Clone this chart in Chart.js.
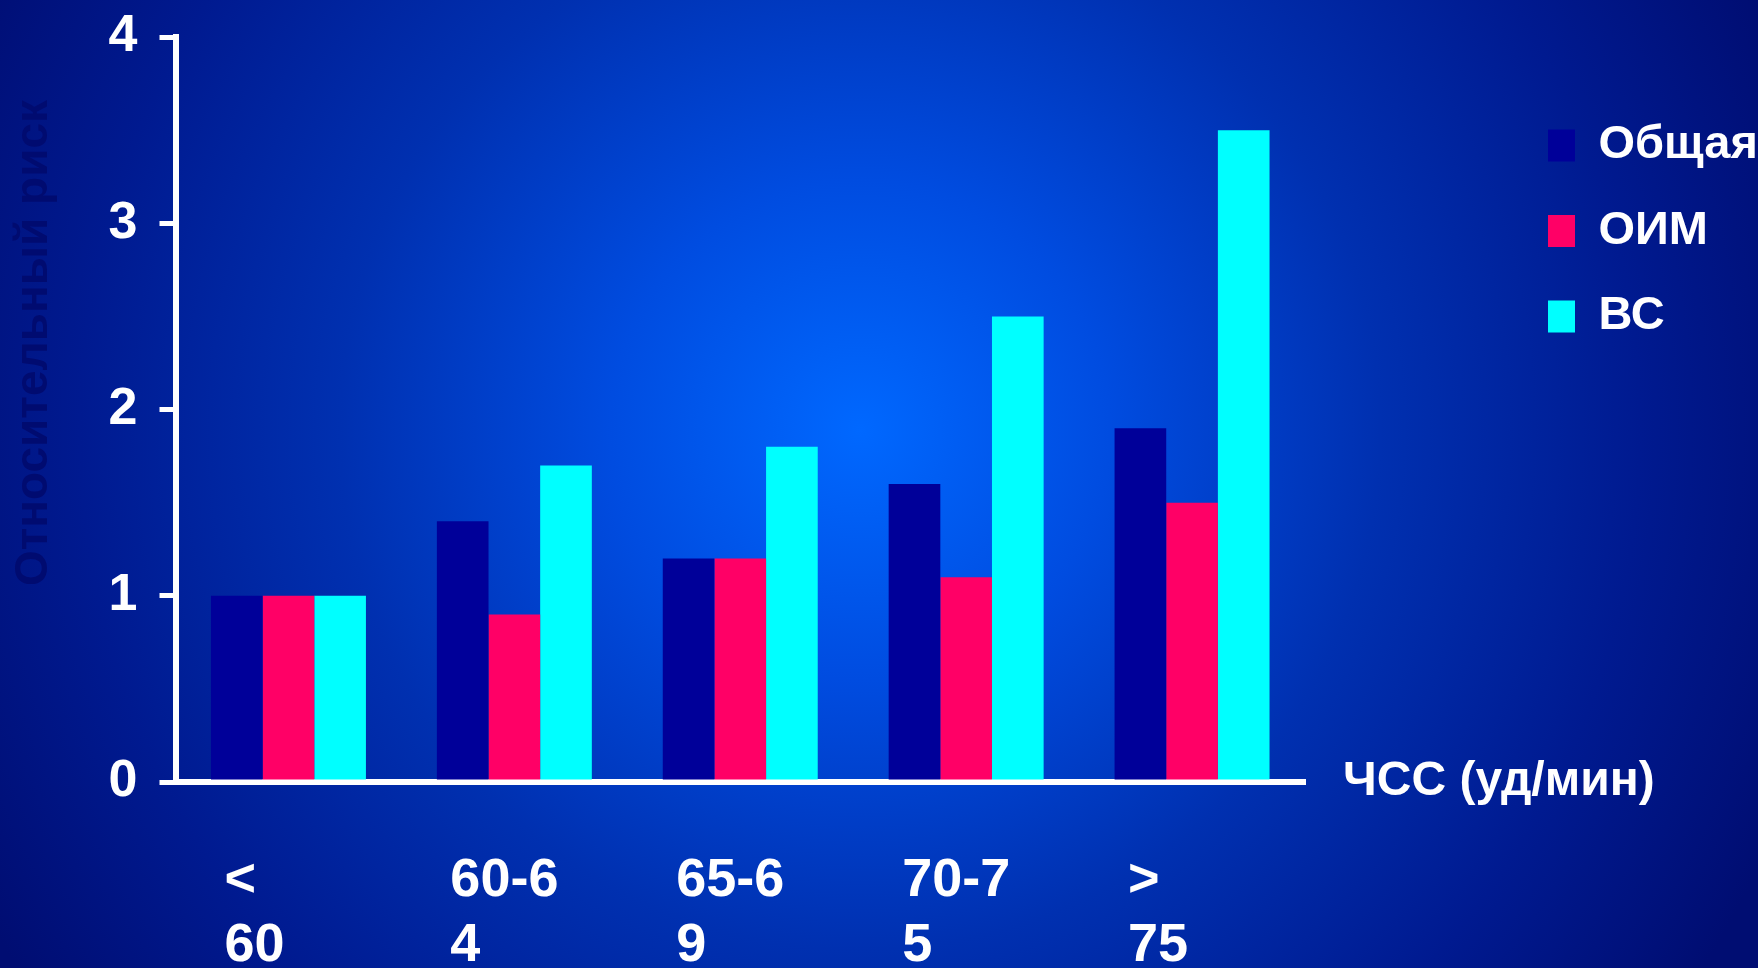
<!DOCTYPE html>
<html>
<head>
<meta charset="utf-8">
<script src="https://cdn.jsdelivr.net/npm/chart.js@4"></script>
<style>
  html, body { margin: 0; padding: 0; }
  body {
    width: 1758px;
    height: 968px;
    overflow: hidden;
    background: radial-gradient(circle 1000px at 860px 430px,
      #0068ff 0%, #004ce0 25%, #0030b0 52%, #001a90 78%, #000d72 100%);
  }
  #wrap { position: relative; width: 1758px; height: 968px; }
</style>
</head>
<body>
<div id="wrap"><canvas id="hrChart"></canvas></div>
<script>
// ЧСС groups and relative risk per outcome
const categories = [['<', '60'], ['60-6', '4'], ['65-6', '9'], ['70-7', '5'], ['>', '75']];
const seriesNames = ['Общая', 'ОИМ', 'ВС'];
const obshaya = [1, 1.4, 1.2, 1.6, 1.9];
const oim = [1, 0.9, 1.2, 1.1, 1.5];
const vs = [1, 1.7, 1.8, 2.5, 3.5];
const yMin = 0;
const yMax = 4;
const yStep = 1;
const xTitle = 'ЧСС (уд/мин)';
const yTitle = 'Относительный риск';

const colors = ['#000099', '#ff0066', '#00ffff'];
const FONT = '"Liberation Sans", Arial, Helvetica, sans-serif';

// layout of the slide
const PLOT_LEFT = 175.5;
const PLOT_TOP = 37;
const PLOT_BOTTOM = 782;
const PLOT_RIGHT = 1305;
const LEGEND_X = 1548;
const LEGEND_Y = 122;

Chart.defaults.font.family = FONT;

const slideText = {
    id: 'slideText',
    beforeInit(chart) {
        // legend reserves the whole strip right of the plot
        const fit = chart.legend.fit;
        chart.legend.fit = function () {
            fit.call(this);
            this.width = chart.width - PLOT_RIGHT;
        };
    },
    afterLayout(chart) {
        const lg = chart.legend;
        const pad = lg.options.labels.padding;
        const dx = LEGEND_X - pad - lg.left;
        const dy = LEGEND_Y - pad - lg.top;
        lg.left += dx; lg.right += dx;
        lg.top += dy; lg.bottom += dy;
    },
    afterDraw(chart) {
        const { ctx, scales: { x, y } } = chart;
        ctx.save();
        ctx.fillStyle = '#ffffff';
        ctx.font = 'bold 48px ' + FONT;
        ctx.textAlign = 'left';
        ctx.textBaseline = 'middle';
        ctx.fillText(xTitle, x.right + 38, y.getPixelForValue(0));

        ctx.translate(34, 343);
        ctx.rotate(-Math.PI / 2);
        ctx.fillStyle = '#000b70';
        ctx.font = 'bold 46px ' + FONT;
        ctx.textAlign = 'center';
        ctx.fillText(yTitle, 0, 0);
        ctx.restore();
    }
};

const ctx = document.getElementById('hrChart').getContext('2d');
new Chart(ctx, {
    type: 'bar',
    data: {
        labels: categories,
        datasets: [obshaya, oim, vs].map((values, i) => ({
            label: seriesNames[i],
            data: values,
            backgroundColor: colors[i],
            borderWidth: 0,
            categoryPercentage: 0.686,
            barPercentage: 1.0
        }))
    },
    options: {
        responsive: true,
        maintainAspectRatio: false,
        animation: false,
        events: [],
        layout: { padding: { top: PLOT_TOP, left: 0, right: 0, bottom: 0 } },
        scales: {
            x: {
                grid: { display: true, drawOnChartArea: false, drawTicks: false },
                border: { color: '#ffffff', width: 6 },
                ticks: {
                    color: '#ffffff',
                    font: { size: 54, weight: 'bold', lineHeight: 1.2 },
                    align: 'start',
                    labelOffset: -64,
                    padding: 67,
                    autoSkip: false,
                    maxRotation: 0
                },
                afterFit(scale) { scale.height = 968 - PLOT_BOTTOM; }
            },
            y: {
                min: yMin,
                max: yMax,
                grid: {
                    drawOnChartArea: false,
                    drawTicks: true,
                    tickLength: 16,
                    color: '#ffffff',
                    lineWidth: 5
                },
                border: { color: '#ffffff', width: 6 },
                ticks: {
                    stepSize: yStep,
                    color: '#ffffff',
                    font: { size: 52, weight: 'bold' },
                    padding: 22
                },
                afterFit(scale) {
                    scale.width = PLOT_LEFT;
                    scale.paddingTop = 0; // top label may sit in the page margin
                }
            }
        },
        plugins: {
            legend: {
                position: 'right',
                align: 'start',
                labels: {
                    color: '#ffffff',
                    font: { size: 47, weight: 'bold' },
                    boxWidth: 27,
                    boxHeight: 32,
                    padding: 38.5
                }
            },
            tooltip: { enabled: false }
        }
    },
    plugins: [slideText]
});
</script>
</body>
</html>
